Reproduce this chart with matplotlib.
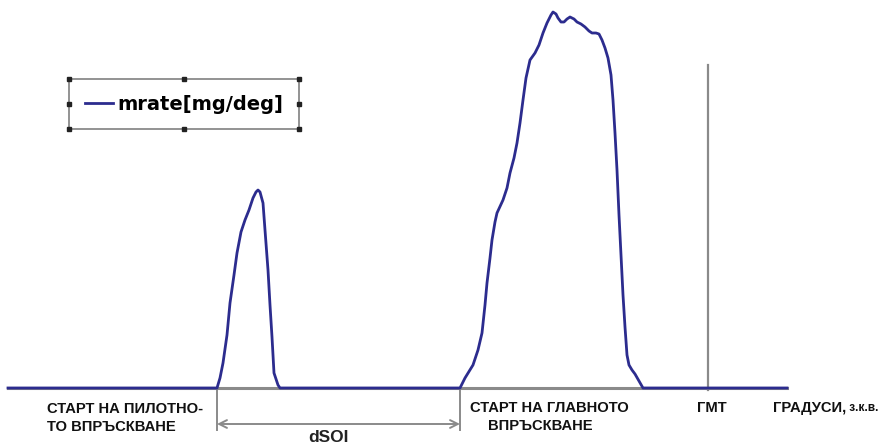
import numpy as np
import matplotlib
matplotlib.use('Agg')
import matplotlib.pyplot as plt

# ── Data (crank angle in chart units, rate in arbitrary units) ────────────────
pilot_x = [217, 220, 223, 227, 230, 234, 237, 241, 245, 249, 253, 256, 258,
           260, 263, 265, 268, 270, 272, 274, 278, 280]
pilot_y = [0, 10, 25, 53, 85, 113, 135, 156, 168, 178, 190, 196, 198,
           196, 185, 158, 118, 83, 51, 15, 3, 0]

main_x = [460, 465, 473, 478, 482, 485, 487, 490, 492, 495, 497, 503, 507,
          510, 514, 517, 520, 523, 526, 530, 535, 539, 543, 547, 551, 553,
          556, 558, 561, 564, 567, 570, 574, 577, 581, 585, 589, 592, 596,
          599, 602, 605, 608, 611, 613, 615, 617, 619, 621, 623, 625, 627,
          629, 632, 635, 639, 643]
main_y = [0, 10, 23, 38, 55, 83, 105, 130, 148, 166, 175, 188, 200,
          215, 230, 245, 265, 288, 310, 328, 335, 343, 355, 365, 373, 376,
          374, 370, 366, 366, 369, 371, 369, 366, 364, 361, 357, 355, 355,
          354, 348, 340, 330, 313, 288, 255, 218, 173, 133, 93, 61, 33,
          23, 18, 14, 7, 0]

axis_start, axis_end = 8, 787
pilot_soi = 217
main_soi = 460
tdc = 708

series_label = 'mrate[mg/deg]'
pilot_label = 'СТАРТ НА ПИЛОТНО-\nТО ВПРЪСКВАНЕ'
main_label_1 = 'СТАРТ НА ГЛАВНОТО'
main_label_2 = 'ВПРЪСКВАНЕ'
tdc_label = 'ГМТ'
axis_label = 'ГРАДУСИ,'
axis_unit = 'з.к.в.'
dsoi_label = 'dSOI'

# ── Style ─────────────────────────────────────────────────────────────────────
NAVY = '#2c2c8e'
GRAY = '#8a8a8a'
INK = '#111111'
LBL = ['Liberation Sans', 'DejaVu Sans']
LBL_SIZE = 10.6

x = [axis_start] + pilot_x + main_x + [axis_end]
y = [0] + pilot_y + main_y + [0]

fig = plt.figure(figsize=(8.91, 4.43), dpi=100)
ax = fig.add_axes([0, 0, 1, 1])
ax.set_xlim(0, 891)
ax.set_ylim(-55, 388)
ax.axis('off')

# axis baseline + markers
ax.plot([axis_start, axis_end], [0, 0], color=GRAY, lw=2.2, zorder=1)
ax.plot([tdc, tdc], [-2, 323], color=GRAY, lw=1.6, zorder=1)
ax.plot([pilot_soi, pilot_soi], [0, -42], color=GRAY, lw=1.4, zorder=1)
ax.plot([main_soi, main_soi], [0, -42], color=GRAY, lw=1.4, zorder=1)

line, = ax.plot(x, y, color=NAVY, lw=2.0, label=series_label, zorder=3)

ax.annotate('', xy=(pilot_soi, -36), xytext=(main_soi, -36),
            arrowprops=dict(arrowstyle='<->', color=GRAY, lw=1.4,
                            shrinkA=0, shrinkB=0, mutation_scale=14))

# ── Labels ────────────────────────────────────────────────────────────────────
ax.text(47, -30, pilot_label, family=LBL, fontweight='bold', fontsize=LBL_SIZE,
        ha='left', va='center', linespacing=1.45, color=INK)
ax.text(470, -20, main_label_1, family=LBL, fontweight='bold', fontsize=LBL_SIZE,
        ha='left', va='center', color=INK)
ax.text(540, -38, main_label_2, family=LBL, fontweight='bold', fontsize=LBL_SIZE,
        ha='center', va='center', color=INK)
ax.text(tdc + 4, -20, tdc_label, family=LBL, fontweight='bold', fontsize=LBL_SIZE,
        ha='center', va='center', color=INK)
t = ax.text(773, -20, axis_label, family=LBL, fontweight='bold', fontsize=LBL_SIZE,
            ha='left', va='center', color=INK)
ax.annotate(' ' + axis_unit, xycoords=t, xy=(1, 0.1), fontsize=8.6,
            family=LBL, fontweight='bold', ha='left', va='bottom', color=INK)
ax.text(328, -49, dsoi_label, family=LBL, fontweight='bold', fontsize=12.5,
        ha='center', va='center', color='#222222')

# ── Legend with selection handles ─────────────────────────────────────────────
leg = ax.legend(handles=[line], loc='upper left',
                bbox_to_anchor=(69 / 891, 1 - 79 / 443), borderaxespad=0,
                fancybox=False, edgecolor=GRAY, framealpha=1,
                prop=dict(weight='bold', size=14),
                handlelength=1.45, handletextpad=0.25, borderpad=0.8)
leg.get_frame().set_linewidth(1.3)

fig.canvas.draw()
bb = leg.get_window_extent().transformed(fig.transFigure.inverted())
hx = [bb.x0, (bb.x0 + bb.x1) / 2, bb.x1]
hy = [bb.y0, (bb.y0 + bb.y1) / 2, bb.y1]
for i, px in enumerate(hx):
    for j, py in enumerate(hy):
        if i == 1 and j == 1:
            continue
        fig.add_artist(plt.Line2D([px], [py], marker='s', ms=3.5,
                                  color='#222222', transform=fig.transFigure,
                                  zorder=10))

fig.savefig('out.png', dpi=100)
